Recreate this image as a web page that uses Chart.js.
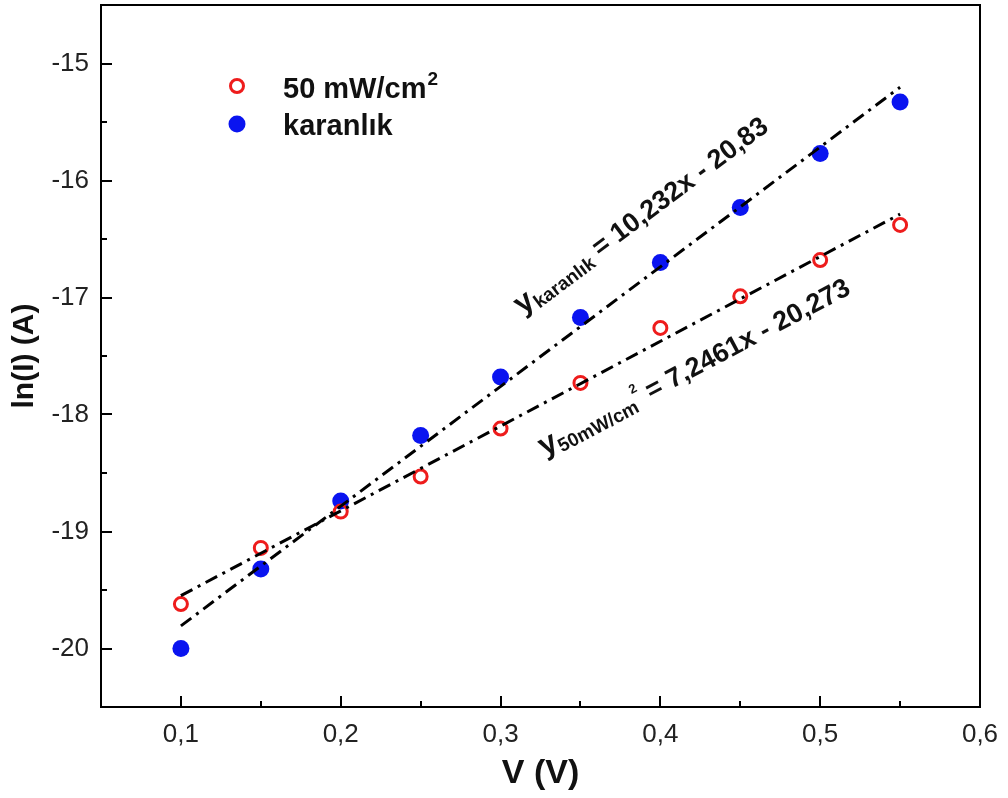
<!DOCTYPE html>
<html>
<head>
<meta charset="utf-8">
<script src="https://cdn.jsdelivr.net/npm/chart.js@4.4.1/dist/chart.umd.min.js"></script>
<style>
  html, body { margin: 0; padding: 0; background: #fff; }
  #wrap { width: 1008px; height: 798px; }
</style>
</head>
<body>
<div id="wrap"><canvas id="chart" width="1008" height="798"></canvas></div>
<script>
// measured values
const voltages = [0.10, 0.15, 0.20, 0.25, 0.30, 0.35, 0.40, 0.45, 0.50, 0.55];
const lnI50 = [-19.62, -19.14, -18.83, -18.53, -18.12, -17.73, -17.26, -16.99, -16.68, -16.38];
const lnIDark = [-20.00, -19.32, -18.74, -18.18, -17.68, -17.17, -16.70, -16.23, -15.77, -15.33];

// linear fits as printed on the figure: [slope, intercept]
const fit50 = [7.2461, -20.273];
const fitDark = [10.232, -20.83];
const fitRange = [0.10, 0.55];

const xTicks = [0.1, 0.2, 0.3, 0.4, 0.5, 0.6];
const xTickLabels = ["0,1", "0,2", "0,3", "0,4", "0,5", "0,6"];
const xMinorTicks = [0.15, 0.25, 0.35, 0.45, 0.55];
const yTicks = [-20, -19, -18, -17, -16, -15];
const yTickLabels = ["-20", "-19", "-18", "-17", "-16", "-15"];
const yMinorTicks = [-19.5, -18.5, -17.5, -16.5, -15.5];

function fitLine(fit) {
    return fitRange.map(v => ({ x: v, y: fit[0] * v + fit[1] }));
}

function toPoints(ys) {
    return voltages.map((v, i) => ({ x: v, y: ys[i] }));
}

const FONT = "'Liberation Sans', Arial, sans-serif";
const PLOT_TOP = 5;

// draws text made of several pieces (sub/superscripts) along a rotated baseline
function drawRich(ctx, x, y, angle, parts) {
    ctx.save();
    ctx.translate(x, y);
    ctx.rotate(angle);
    ctx.fillStyle = "#111";
    ctx.textBaseline = "alphabetic";
    ctx.textAlign = "left";
    let cx = 0;
    parts.forEach(p => {
        ctx.font = "bold " + p.size + "px " + FONT;
        ctx.fillText(p.text, cx, p.dy);
        cx += ctx.measureText(p.text).width;
    });
    ctx.restore();
}

const decorPlugin = {
    id: "decor",
    // pull the plot area up to the top edge like the original figure
    afterLayout(chart) {
        const ys = chart.scales.y;
        const shift = ys.top - PLOT_TOP;
        if (shift > 0) {
            ys.top = PLOT_TOP;
            ys.height += shift;
            chart.chartArea.top = PLOT_TOP;
            chart.chartArea.height += shift;
            ys.configure();
        }
    },
    afterDatasetsDraw(chart) {
        const ctx = chart.ctx;
        const a = chart.chartArea;
        const xs = chart.scales.x;
        const ys = chart.scales.y;
        ctx.save();
        ctx.strokeStyle = "#000";
        ctx.lineWidth = 2;
        ctx.strokeRect(a.left, a.top, a.right - a.left, a.bottom - a.top);

        ctx.beginPath();
        xTicks.forEach(v => {
            const px = Math.round(xs.getPixelForValue(v));
            ctx.moveTo(px, a.bottom); ctx.lineTo(px, a.bottom - 11);
        });
        xMinorTicks.forEach(v => {
            const px = Math.round(xs.getPixelForValue(v));
            ctx.moveTo(px, a.bottom); ctx.lineTo(px, a.bottom - 6);
        });
        yTicks.forEach(v => {
            const py = Math.round(ys.getPixelForValue(v));
            ctx.moveTo(a.left, py); ctx.lineTo(a.left + 11, py);
        });
        yMinorTicks.forEach(v => {
            const py = Math.round(ys.getPixelForValue(v));
            ctx.moveTo(a.left, py); ctx.lineTo(a.left + 6, py);
        });
        ctx.stroke();

        // legend
        ctx.lineWidth = 3;
        ctx.strokeStyle = "#ee1c1c";
        ctx.beginPath();
        ctx.arc(237, 86, 6.5, 0, Math.PI * 2);
        ctx.stroke();
        ctx.fillStyle = "#0a14f0";
        ctx.beginPath();
        ctx.arc(237, 124, 8.5, 0, Math.PI * 2);
        ctx.fill();

        ctx.fillStyle = "#111";
        ctx.textBaseline = "alphabetic";
        ctx.font = "bold 29px " + FONT;
        ctx.fillText("50 mW/cm", 283, 98);
        const w = ctx.measureText("50 mW/cm").width;
        ctx.font = "bold 19px " + FONT;
        ctx.fillText("2", 283 + w + 1, 85);
        ctx.font = "bold 29px " + FONT;
        ctx.fillText("karanlık", 283, 135);

        // fit equations, rotated along their lines
        const angDark = Math.atan2(
            ys.getPixelForValue(fitDark[0] * 0.5 + fitDark[1]) - ys.getPixelForValue(fitDark[0] * 0.2 + fitDark[1]),
            xs.getPixelForValue(0.5) - xs.getPixelForValue(0.2));
        const ang50 = Math.atan2(
            ys.getPixelForValue(fit50[0] * 0.5 + fit50[1]) - ys.getPixelForValue(fit50[0] * 0.2 + fit50[1]),
            xs.getPixelForValue(0.5) - xs.getPixelForValue(0.2));

        drawRich(ctx, xs.getPixelForValue(0.3138), ys.getPixelForValue(-17.15), angDark, [
            { text: "y", size: 31, dy: 0 },
            { text: "karanlık", size: 19, dy: 5 },
            { text: " = 10,232x - 20,83", size: 27, dy: 0 }
        ]);
        drawRich(ctx, xs.getPixelForValue(0.3275), ys.getPixelForValue(-18.357), ang50, [
            { text: "y", size: 31, dy: 0 },
            { text: "50mW/cm", size: 19, dy: 5 },
            { text: "2", size: 13, dy: -14 },
            { text: " = 7,2461x - 20,273", size: 27, dy: 0 }
        ]);
        ctx.restore();
    }
};

const dashDot = [13, 6, 3, 6];

new Chart(document.getElementById("chart"), {
    type: "scatter",
    data: {
        datasets: [
            {
                label: "fit karanlık",
                data: fitLine(fitDark),
                showLine: true,
                borderColor: "#000",
                borderWidth: 3,
                borderDash: dashDot,
                pointRadius: 0
            },
            {
                label: "fit 50",
                data: fitLine(fit50),
                showLine: true,
                borderColor: "#000",
                borderWidth: 3,
                borderDash: dashDot,
                pointRadius: 0
            },
            {
                label: "50 mW/cm2",
                data: toPoints(lnI50),
                pointStyle: "circle",
                pointRadius: 6.5,
                pointBorderWidth: 3,
                borderColor: "#ee1c1c",
                backgroundColor: "rgba(255,255,255,0)"
            },
            {
                label: "karanlık",
                data: toPoints(lnIDark),
                pointStyle: "circle",
                pointRadius: 8.5,
                pointBorderWidth: 0,
                borderColor: "#0a14f0",
                backgroundColor: "#0a14f0"
            }
        ]
    },
    options: {
        responsive: false,
        animation: false,
        layout: { padding: { top: 0, right: 28, left: 0, bottom: 0 } },
        plugins: {
            legend: { display: false },
            tooltip: { enabled: false }
        },
        scales: {
            x: {
                type: "linear",
                min: 0.05,
                max: 0.6,
                grid: { display: false, drawTicks: false },
                border: { display: false },
                afterBuildTicks: function (scale) {
                    scale.ticks = xTicks.map(v => ({ value: v }));
                },
                afterFit: function (scale) {
                    scale.height = 91;
                    scale.paddingLeft = 0;
                    scale.paddingRight = 0;
                },
                ticks: {
                    padding: 12,
                    color: "#222",
                    font: { family: FONT, size: 26 },
                    maxRotation: 0,
                    callback: function (value) {
                        const i = xTicks.findIndex(t => Math.abs(t - value) < 1e-6);
                        return i >= 0 ? xTickLabels[i] : "";
                    }
                },
                title: {
                    display: true,
                    text: "V (V)",
                    color: "#111",
                    font: { family: FONT, size: 34, weight: "bold" },
                    padding: { top: 4, bottom: 4 }
                }
            },
            y: {
                type: "linear",
                min: -20.5,
                max: -14.5,
                grid: { display: false, drawTicks: false },
                border: { display: false },
                afterBuildTicks: function (scale) {
                    scale.ticks = yTicks.map(v => ({ value: v }));
                },
                afterFit: function (scale) {
                    scale.width = 101;
                    scale.paddingTop = 0;
                    scale.paddingBottom = 0;
                },
                ticks: {
                    padding: 12,
                    color: "#222",
                    font: { family: FONT, size: 26 },
                    callback: function (value) {
                        const i = yTicks.findIndex(t => Math.abs(t - value) < 1e-6);
                        return i >= 0 ? yTickLabels[i] : "";
                    }
                },
                title: {
                    display: true,
                    text: "ln(I) (A)",
                    color: "#111",
                    font: { family: FONT, size: 30, weight: "bold" },
                    padding: { top: 7, bottom: 0 }
                }
            }
        }
    },
    plugins: [decorPlugin]
});
</script>
</body>
</html>
